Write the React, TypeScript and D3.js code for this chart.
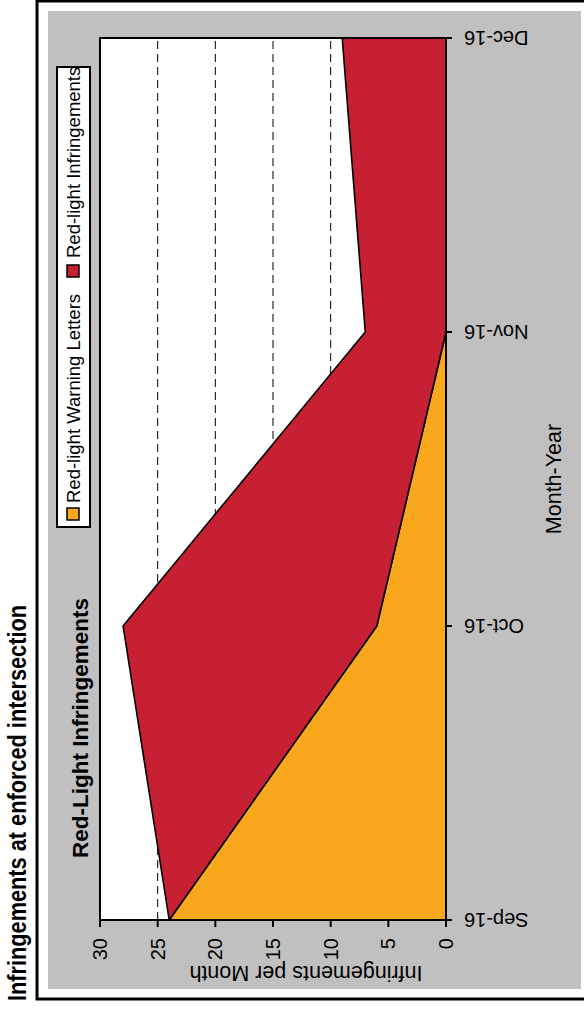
import React from 'react';
import * as d3 from 'd3';

const months = ['Sep-16', 'Oct-16', 'Nov-16', 'Dec-16'];
const warningLetters = [24, 6, 0, 0];
const infringements = [0, 22, 7, 9];
const valueTicks = [0, 5, 10, 15, 20, 25, 30];
const seriesKeys = ['warning', 'infringe'];
const seriesNames = ['Red-light Warning Letters', 'Red-light Infringements'];
const seriesColors = ['#F9A71C', '#C82033'];

const FONT = "'Liberation Sans', Arial, Helvetica, sans-serif";

export default function App() {
  const W = 1010;
  const H = 584;
  const plot = { x0: 90, x1: 972, y0: 100, y1: 446 };
  const x = d3.scalePoint<string>().domain(months).range([plot.x0, plot.x1]);
  const y = d3.scaleLinear().domain([0, 30]).range([plot.y1, plot.y0]);

  const rows = months.map((m, i) => ({ month: m, warning: warningLetters[i], infringe: infringements[i] }));
  const stacked = d3.stack<any>().keys(seriesKeys)(rows);
  const area = d3
    .area<any>()
    .x((d) => x(d.data.month) as number)
    .y0((d) => y(d[0]))
    .y1((d) => y(d[1]));

  const legendItems = [
    { x: 490, tx: 507 },
    { x: 733, tx: 752 },
  ];

  return (
    <svg
      width={584}
      height={1010}
      style={{ position: 'absolute', left: 0, top: 0, background: '#fff' }}
      fontFamily={FONT}
    >
      <g transform={`translate(0,${W}) rotate(-90)`}>
        {/* outer title */}
        <text
          x={9}
          y={26}
          fontSize={26}
          fontWeight="bold"
          textLength={396}
          lengthAdjust="spacingAndGlyphs"
          fill="#000"
        >
          Infringements at enforced intersection
        </text>
        {/* outer border */}
        <rect x={11} y={37} width={998} height={620} fill="none" stroke="#000" strokeWidth={3} />
        {/* gray panel */}
        <rect x={21} y={48} width={978} height={533} fill="#C0C0C0" />
        {/* plot background */}
        <rect x={plot.x0} y={plot.y0} width={plot.x1 - plot.x0} height={plot.y1 - plot.y0} fill="#fff" />
        {/* gridlines */}
        {valueTicks
          .filter((v) => v > 0 && v < 30)
          .map((v) => (
            <line
              key={'g' + v}
              x1={plot.x0}
              x2={plot.x1}
              y1={y(v)}
              y2={y(v)}
              stroke="#000"
              strokeWidth={1}
              strokeDasharray="8,5"
            />
          ))}
        {/* areas */}
        {stacked.map((s, i) => (
          <path
            key={s.key}
            d={area(s as any) || ''}
            fill={seriesColors[i]}
            stroke="#000"
            strokeWidth={1.6}
            strokeLinejoin="round"
          />
        ))}
        {/* plot border */}
        <rect
          x={plot.x0}
          y={plot.y0}
          width={plot.x1 - plot.x0}
          height={plot.y1 - plot.y0}
          fill="none"
          stroke="#000"
          strokeWidth={2}
        />
        {/* value axis */}
        {valueTicks.map((v) => (
          <g key={'v' + v}>
            <line x1={plot.x0 - 7} x2={plot.x0} y1={y(v)} y2={y(v)} stroke="#000" strokeWidth={2} />
            <text x={72} y={y(v)} dy="0.35em" textAnchor="end" fontSize={20} fill="#000">
              {v}
            </text>
          </g>
        ))}
        {/* category axis */}
        {months.map((m) => (
          <g key={m}>
            <line
              x1={x(m)}
              x2={x(m)}
              y1={plot.y1}
              y2={plot.y1 + 6}
              stroke="#000"
              strokeWidth={2}
            />
            <text
              transform={`translate(${x(m)},${plot.y1 + 18}) rotate(-90)`}
              dy="0.35em"
              textAnchor="end"
              fontSize={20}
              fill="#000"
            >
              {m}
            </text>
          </g>
        ))}
        {/* axis titles */}
        <text
          transform={`translate(44,306) rotate(-90)`}
          textAnchor="middle"
          fontSize={21.5}
          fill="#000"
        >
          Infringements per Month
        </text>
        <text x={(plot.x0 + plot.x1) / 2} y={561} textAnchor="middle" fontSize={21.5} fill="#000">
          Month-Year
        </text>
        {/* chart title */}
        <text x={152} y={88} fontSize={22.5} fontWeight="bold" fill="#000">
          Red-Light Infringements
        </text>
        {/* legend */}
        <rect x={483} y={57} width={460} height={33} fill="#fff" stroke="#000" strokeWidth={2} />
        {legendItems.map((it, i) => (
          <g key={'l' + i}>
            <rect
              x={it.x}
              y={67}
              width={12}
              height={12}
              fill={seriesColors[i]}
              stroke="#000"
              strokeWidth={1.5}
            />
            <text x={it.tx} y={73.5} dy="0.35em" fontSize={18.5} fill="#000">
              {seriesNames[i]}
            </text>
          </g>
        ))}
      </g>
    </svg>
  );
}
